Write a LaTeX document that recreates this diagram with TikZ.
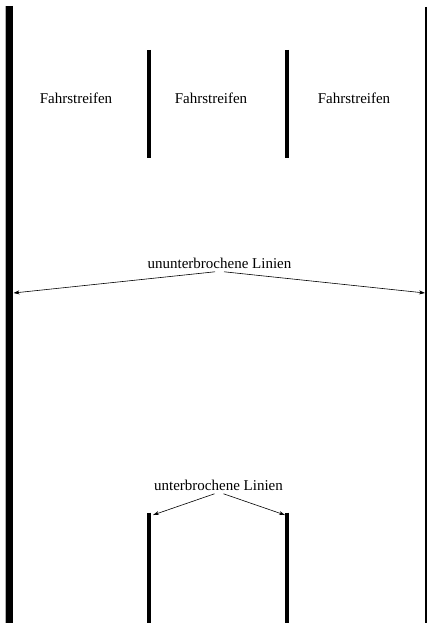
\documentclass[tikz,border=0pt]{standalone}
\usepackage{fontspec}
\setmainfont{Liberation Serif}
\usetikzlibrary{arrows.meta, positioning}

\begin{document}
\begin{tikzpicture}[x=1pt, y=-1pt, font=\fontsize{15}{18}\selectfont,
                lane line/.style={line width=4pt},
                lane label/.style={inner sep=3.3pt},
                label arrow/.style={-{Stealth[length=6pt, width=4pt]}, line width=0.6pt}]
                \useasboundingbox (0,0) rectangle (428,623);

                % Road edges
                \draw[gray!60, line width=1pt] (5.5,6) -- (5.5,623);
                \draw[line width=7pt] (9.5,6) -- (9.5,623);
                \draw[line width=1.5pt] (426,7) -- (426,623);

                % Lane dividers, upper part
                \draw[lane line] (149.3,50) -- (149.3,158);
                \draw[lane line] (287.3,50) -- (287.3,158);

                % Lane dividers, lower part
                \draw[lane line] (149.3,512.5) -- (149.3,623);
                \draw[lane line] (287.3,512.5) -- (287.3,623);

                % Lane labels
                \node[lane label] (lane1) at (76,98) {Fahrstreifen};
                \node[lane label] (lane2) at (211,98) {Fahrstreifen};
                \node[lane label] (lane3) at (354,98) {Fahrstreifen};

                % Solid lines label with arrows to the road edges
                \node[lane label] (solid) at (219.5,263) {ununterbrochene Linien};
                \coordinate (edge left) at (13.5,293);
                \coordinate (edge right) at (425,293);
                \draw[label arrow] ([xshift=-4.5pt]solid.south) -- (edge left);
                \draw[label arrow] ([xshift=4.5pt]solid.south) -- (edge right);

                % Broken lines label with arrows to the dividers
                \node[lane label] (broken) at (218.5,485) {unterbrochene Linien};
                \coordinate (divider left) at (153,515);
                \coordinate (divider right) at (285,515);
                \draw[label arrow] ([xshift=-4pt]broken.south) -- (divider left);
                \draw[label arrow] ([xshift=5pt]broken.south) -- (divider right);
            \end{tikzpicture}
\end{document}
